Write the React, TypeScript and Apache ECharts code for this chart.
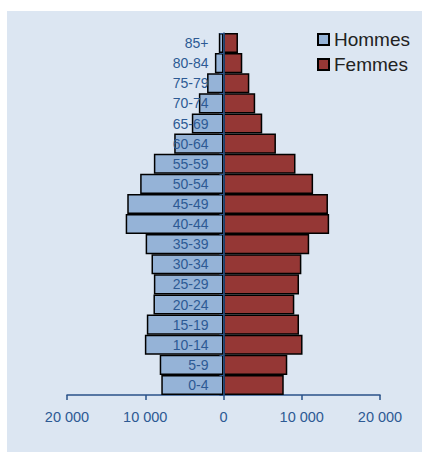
import React, { useEffect, useRef } from "react";
import * as echarts from "echarts";

const categories = ["0-4", "5-9", "10-14", "15-19", "20-24", "25-29", "30-34", "35-39", "40-44", "45-49", "50-54", "55-59", "60-64", "65-69", "70-74", "75-79", "80-84", "85+"];
const hommes = [7950, 8150, 10050, 9800, 8950, 8900, 9200, 9950, 12500, 12300, 10650, 8900, 6300, 4050, 3150, 2100, 1100, 600];
const femmes = [7700, 8150, 10100, 9650, 9050, 9650, 9950, 10950, 13500, 13350, 11450, 9200, 6700, 4950, 4050, 3300, 2400, 1850];
const xTicks = { min: -20000, max: 20000, interval: 10000 };

const FONT = "'Liberation Sans', Arial, sans-serif";
const BLUE_TEXT = "#2d5a94";
const AXIS_BLUE = "#2a5289";

const GRID_LEFT = 67;
const GRID_RIGHT = 42;
const CHART_W = 422;

const fmt = (v: number) => {
  const a = Math.abs(v);
  return String(a).replace(/\B(?=(\d{3})+(?!\d))/g, " ");
};

export default function App() {
  const ref = useRef<HTMLDivElement>(null);
  useEffect(() => {
    if (!ref.current) return;
    const chart = echarts.init(ref.current, undefined, { renderer: "svg" });
    const gridW = CHART_W - GRID_LEFT - GRID_RIGHT;
    const zeroOffset = (gridW * (0 - xTicks.min)) / (xTicks.max - xTicks.min);
    chart.setOption({
      animation: false,
      backgroundColor: "transparent",
      textStyle: { fontFamily: FONT },
      grid: { left: GRID_LEFT, right: GRID_RIGHT, top: 33, bottom: 57, containLabel: false },
      legend: {
        data: ["Hommes", "Femmes"],
        orient: "vertical",
        left: 317,
        top: 30,
        padding: 0,
        itemWidth: 11,
        itemHeight: 11,
        itemGap: 6,
        icon: "rect",
        textStyle: { fontSize: 19, color: "#222", fontFamily: FONT },
      },
      xAxis: {
        type: "value",
        min: xTicks.min,
        max: xTicks.max,
        interval: xTicks.interval,
        splitLine: { show: false },
        axisLine: { show: true, lineStyle: { color: AXIS_BLUE, width: 1.5 } },
        axisTick: { show: true, length: 5, lineStyle: { color: AXIS_BLUE, width: 1.5 } },
        axisLabel: {
          formatter: fmt,
          color: BLUE_TEXT,
          fontSize: 14.5,
          fontFamily: FONT,
          margin: 14,
        },
      },
      yAxis: {
        type: "category",
        data: categories,
        z: 10,
        position: "left",
        offset: -zeroOffset,
        axisLine: { show: true, onZero: false, lineStyle: { color: AXIS_BLUE, width: 1.5 } },
        axisTick: { show: true, length: 4, lineStyle: { color: AXIS_BLUE, width: 1 } },
        axisLabel: { color: BLUE_TEXT, fontSize: 14, fontFamily: FONT, margin: 15 },
      },
      series: [
        {
          name: "Hommes",
          type: "bar",
          stack: "total",
          barCategoryGap: "0%",
          data: hommes.map((v) => -v),
          itemStyle: { color: "#95b3d7", borderColor: "#000", borderWidth: 1.5 },
        },
        {
          name: "Femmes",
          type: "bar",
          stack: "total",
          barCategoryGap: "0%",
          data: femmes,
          itemStyle: { color: "#953735", borderColor: "#000", borderWidth: 1.5 },
        },
      ],
    });
    return () => chart.dispose();
  }, []);

  return (
    <div style={{ position: "absolute", left: 0, top: 0, width: 422, height: 452, background: "#fff" }}>
      <div style={{ position: "absolute", left: 7, top: 11, width: 415, height: 441, background: "#dce6f2" }} />
      <div ref={ref} style={{ position: "absolute", left: 0, top: 0, width: 422, height: 452 }} />
    </div>
  );
}
